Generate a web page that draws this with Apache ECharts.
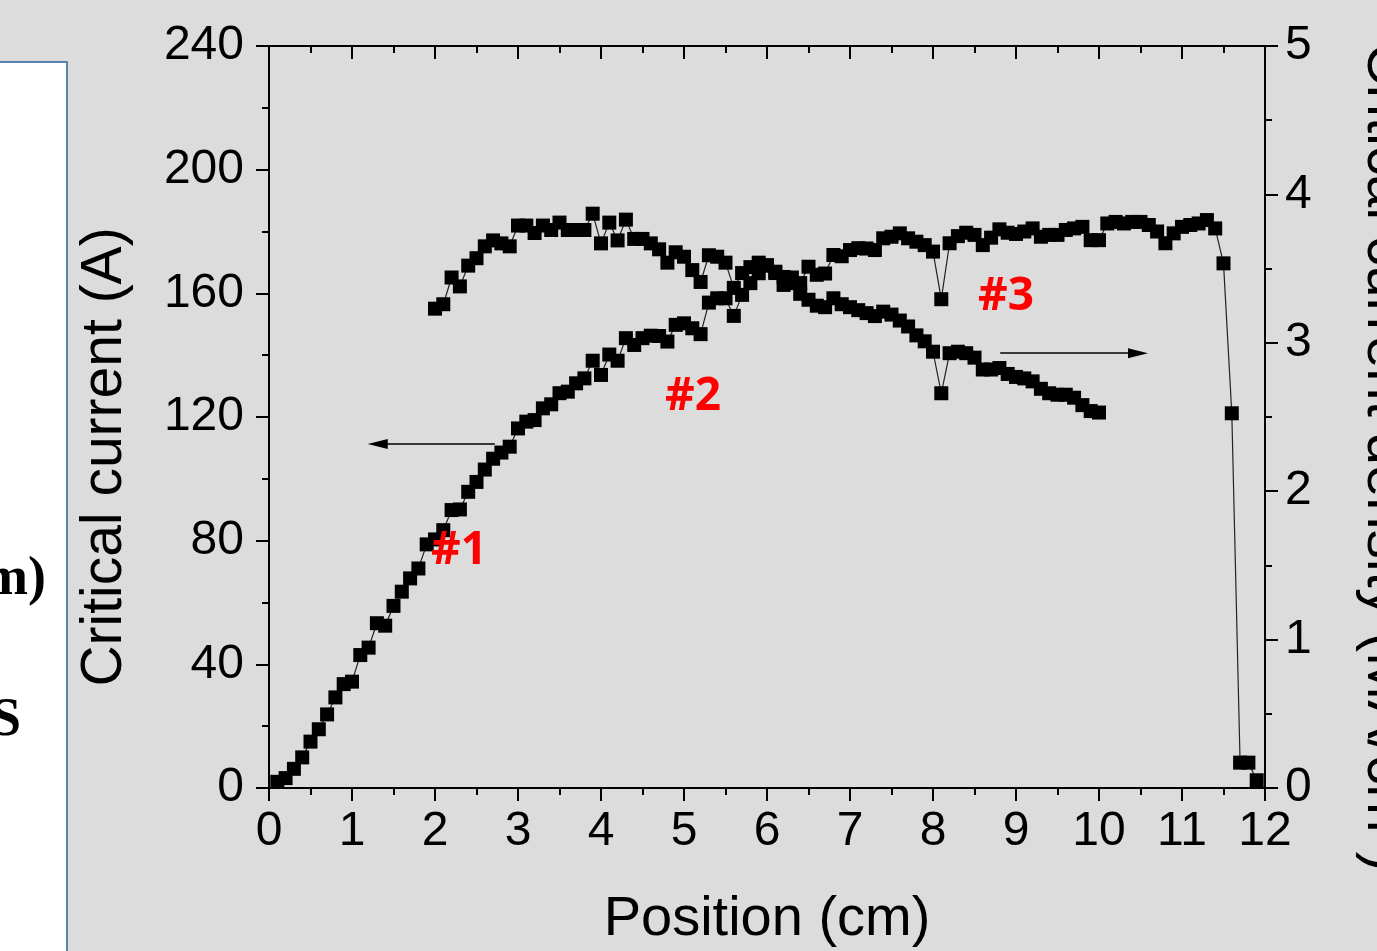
<!DOCTYPE html>
<html>
<head>
<meta charset="utf-8">
<script src="https://cdn.jsdelivr.net/npm/echarts@6/dist/echarts.min.js"></script>
<style>
html, body { margin: 0; padding: 0; background: #dcdcdc; }
#chart { width: 1377px; height: 951px; }
</style>
</head>
<body>
<div id="chart"></div>
<script>
// position along the tape (cm), sample A: critical current (A)
const posA = [
    0.1, 0.2, 0.3, 0.4, 0.5, 0.6, 0.7, 0.8, 0.9, 1.0,
    1.1, 1.2, 1.3, 1.4, 1.5, 1.6, 1.7, 1.8, 1.9, 2.0,
    2.1, 2.2, 2.3, 2.4, 2.5, 2.6, 2.7, 2.8, 2.9, 3.0,
    3.1, 3.2, 3.3, 3.4, 3.5, 3.6, 3.7, 3.8, 3.9, 4.0,
    4.1, 4.2, 4.3, 4.4, 4.5, 4.6, 4.7, 4.8, 4.9, 5.0,
    5.1, 5.2, 5.3, 5.4, 5.5, 5.6, 5.7, 5.8, 5.9, 6.0,
    6.1, 6.2, 6.3, 6.4, 6.5, 6.6, 6.7, 6.8, 6.9, 7.0,
    7.1, 7.2, 7.3, 7.4, 7.5, 7.6, 7.7, 7.8, 7.9, 8.0,
    8.1, 8.2, 8.3, 8.4, 8.5, 8.6, 8.7, 8.8, 8.9, 9.0,
    9.1, 9.2, 9.3, 9.4, 9.5, 9.6, 9.7, 9.8, 9.9, 10.0,
    10.1, 10.2, 10.3, 10.4, 10.5, 10.6, 10.7, 10.8, 10.9, 11.0,
    11.1, 11.2, 11.3, 11.4, 11.5, 11.6, 11.7, 11.8, 11.9
]
const currentA = [
    2, 3.2, 6.2, 9.9, 15, 19, 23.8, 29.3, 33.6, 34.4,
    43, 45.4, 53.3, 52.5, 58.9, 63.5, 67.8, 71, 78.8, 80.4,
    83.4, 89.9, 90.1, 95.8, 99, 103, 106.5, 108.5, 110.4, 116.3,
    118.5, 119, 122.8, 124.1, 127.7, 128.2, 130.9, 132.5, 138.2, 133.6,
    140.2, 138.2, 145.5, 143.3, 145.5, 146.3, 146.2, 144.4, 149.8, 150.3,
    148.7, 146.8, 157, 158.4, 158.4, 152.7, 159.5, 163.3, 166.5, 169.1,
    167, 165.3, 163.3, 163.3, 168.6, 166, 166.4, 172.4, 172, 174,
    174.6, 174.5, 174, 177.8, 178.3, 179.4, 177.8, 176.7, 175.6, 173.5,
    158.1, 176.2, 178.5, 179.6, 178.9, 175.6, 178, 180.7, 179.6, 179.2,
    180, 181, 178.3, 178.9, 178.9, 180.5, 181, 181.5, 177.2, 177.2,
    182.6, 183.1, 182.6, 183.1, 183.1, 182.1, 180, 176.2, 179.4, 181.5,
    182.1, 182.6, 183.7, 181, 169.7, 121.2, 8.2, 8.2, 2.5
]

// sample B: critical current density (MA/cm2), right axis
const posB = [
    2.0, 2.1, 2.2, 2.3, 2.4, 2.5, 2.6, 2.7, 2.8, 2.9,
    3.0, 3.1, 3.2, 3.3, 3.4, 3.5, 3.6, 3.7, 3.8, 3.9,
    4.0, 4.1, 4.2, 4.3, 4.4, 4.5, 4.6, 4.7, 4.8, 4.9,
    5.0, 5.1, 5.2, 5.3, 5.4, 5.5, 5.6, 5.7, 5.8, 5.9,
    6.0, 6.1, 6.2, 6.3, 6.4, 6.5, 6.6, 6.7, 6.8, 6.9,
    7.0, 7.1, 7.2, 7.3, 7.4, 7.5, 7.6, 7.7, 7.8, 7.9,
    8.0, 8.1, 8.2, 8.3, 8.4, 8.5, 8.6, 8.7, 8.8, 8.9,
    9.0, 9.1, 9.2, 9.3, 9.4, 9.5, 9.6, 9.7, 9.8, 9.9, 10.0
]
const densityB = [
    3.23, 3.26, 3.44, 3.38, 3.52, 3.57, 3.65, 3.69, 3.67, 3.65,
    3.79, 3.79, 3.74, 3.79, 3.76, 3.81, 3.76, 3.76, 3.76, 3.87,
    3.67, 3.81, 3.69, 3.83, 3.70, 3.70, 3.67, 3.63, 3.54, 3.61,
    3.58, 3.49, 3.41, 3.59, 3.58, 3.54, 3.37, 3.47, 3.51, 3.54,
    3.52, 3.47, 3.39, 3.44, 3.33, 3.29, 3.25, 3.24, 3.30, 3.26,
    3.24, 3.22, 3.20, 3.18, 3.21, 3.19, 3.15, 3.11, 3.05, 3.01,
    2.94, 2.66, 2.93, 2.94, 2.93, 2.90, 2.82, 2.82, 2.83, 2.79,
    2.77, 2.76, 2.74, 2.69, 2.66, 2.65, 2.65, 2.63, 2.58, 2.54, 2.53
]

// red sample tags, placed in left-axis units
const tagNames = ['#1', '#2', '#3']
const tagPos = [[2.29, 76.7], [5.11, 126.5], [8.88, 158.8]]

// arrows pointing to the axis each curve belongs to
const arrowLeft = [[2.72, 111.3], [1.31, 111.3]]
const arrowRight = [[8.81, 2.93], [10.47, 2.93]]

const font = '"Liberation Sans", Arial, sans-serif'
const arrowHead = 'path://M5,0L10,20L0,20Z'

const chart = echarts.init(document.getElementById('chart'))

function axisBase(margin) {
    return {
        type: 'value',
        axisLine: { show: true, onZero: false, lineStyle: { color: '#000', width: 2 } },
        axisTick: { show: true, length: 13, lineStyle: { color: '#000', width: 2 } },
        minorTick: { show: true, splitNumber: 2, length: 7, lineStyle: { color: '#000', width: 2 } },
        splitLine: { show: false },
        axisLabel: { color: '#000', fontSize: 48, fontFamily: font, margin: margin },
        nameTextStyle: { color: '#000', fontSize: 56, fontFamily: font }
    }
}

const option = {
    backgroundColor: '#dcdcdc',
    animation: false,
    grid: { left: 269, right: 112, top: 46, bottom: 163, containLabel: false, outerBoundsMode: 'none' },
    xAxis: [
        Object.assign(axisBase(20), {
            min: 0, max: 12, interval: 1, position: 'bottom',
            name: 'Position (cm)', nameLocation: 'middle', nameGap: 104
        }),
        Object.assign(axisBase(20), {
            min: 0, max: 12, interval: 1, position: 'top',
            axisTick: { show: true, inside: true, length: 13, lineStyle: { color: '#000', width: 2 } },
            axisLabel: { show: false }
        })
    ],
    yAxis: [
        Object.assign(axisBase(25), {
            min: 0, max: 240, interval: 40, position: 'left',
            name: 'Critical current (A)', nameLocation: 'middle', nameGap: 135, nameRotate: 90,
            nameTextStyle: { color: '#000', fontSize: 57, fontFamily: font, padding: [0, 80, 0, 0] }
        }),
        Object.assign(axisBase(20), {
            min: 0, max: 5, interval: 1, position: 'right',
            name: 'Critical current density (MA/cm²)', nameLocation: 'middle', nameGap: 90, nameRotate: -90,
            nameTextStyle: { color: '#000', fontSize: 58, fontFamily: font, padding: [0, 0, 0, 80] }
        })
    ],
    series: [
        {
            name: 'Ic',
            type: 'line',
            xAxisIndex: 0,
            yAxisIndex: 0,
            data: posA.map((x, i) => [x, currentA[i]]),
            symbol: 'rect',
            symbolSize: 14,
            itemStyle: { color: '#000' },
            lineStyle: { color: '#222', width: 1.2 },
            markLine: {
                silent: true,
                symbol: ['none', arrowHead],
                symbolSize: 20,
                symbolKeepAspect: true,
                label: { show: false },
                lineStyle: { color: '#000', width: 1.5, type: 'solid' },
                data: [[{ coord: arrowLeft[0] }, { coord: arrowLeft[1] }]]
            },
            markPoint: {
                symbol: 'rect',
                symbolSize: 1,
                itemStyle: { color: 'rgba(0,0,0,0)' },
                label: {
                    show: true,
                    position: 'inside',
                    formatter: (p) => p.name,
                    color: '#ff0000',
                    fontSize: 46,
                    fontWeight: 'bold',
                    fontFamily: '"Open Sans", "Noto Sans", sans-serif'
                },
                data: tagNames.map((n, i) => ({ name: n, coord: tagPos[i] }))
            }
        },
        {
            name: 'Jc',
            type: 'line',
            xAxisIndex: 0,
            yAxisIndex: 1,
            data: posB.map((x, i) => [x, densityB[i]]),
            symbol: 'rect',
            symbolSize: 14,
            itemStyle: { color: '#000' },
            lineStyle: { color: '#222', width: 1.2 },
            markLine: {
                silent: true,
                symbol: ['none', arrowHead],
                symbolSize: 20,
                symbolKeepAspect: true,
                label: { show: false },
                lineStyle: { color: '#000', width: 1.5, type: 'solid' },
                data: [[{ coord: arrowRight[0] }, { coord: arrowRight[1] }]]
            }
        }
    ],
    graphic: [
        {
            type: 'rect',
            shape: { x: -10, y: 62, width: 77, height: 920 },
            style: { fill: '#fff', stroke: '#5a80b0', lineWidth: 2 }
        },
        {
            type: 'text',
            x: 46, y: 607,
            style: { text: 'm)', fill: '#000', font: 'bold 54px "Liberation Serif", serif', textAlign: 'right', textVerticalAlign: 'bottom' }
        },
        {
            type: 'text',
            x: 21, y: 748,
            style: { text: 'S', fill: '#000', font: 'bold 54px "Liberation Serif", serif', textAlign: 'right', textVerticalAlign: 'bottom' }
        }
    ]
}

chart.setOption(option)
</script>
</body>
</html>
